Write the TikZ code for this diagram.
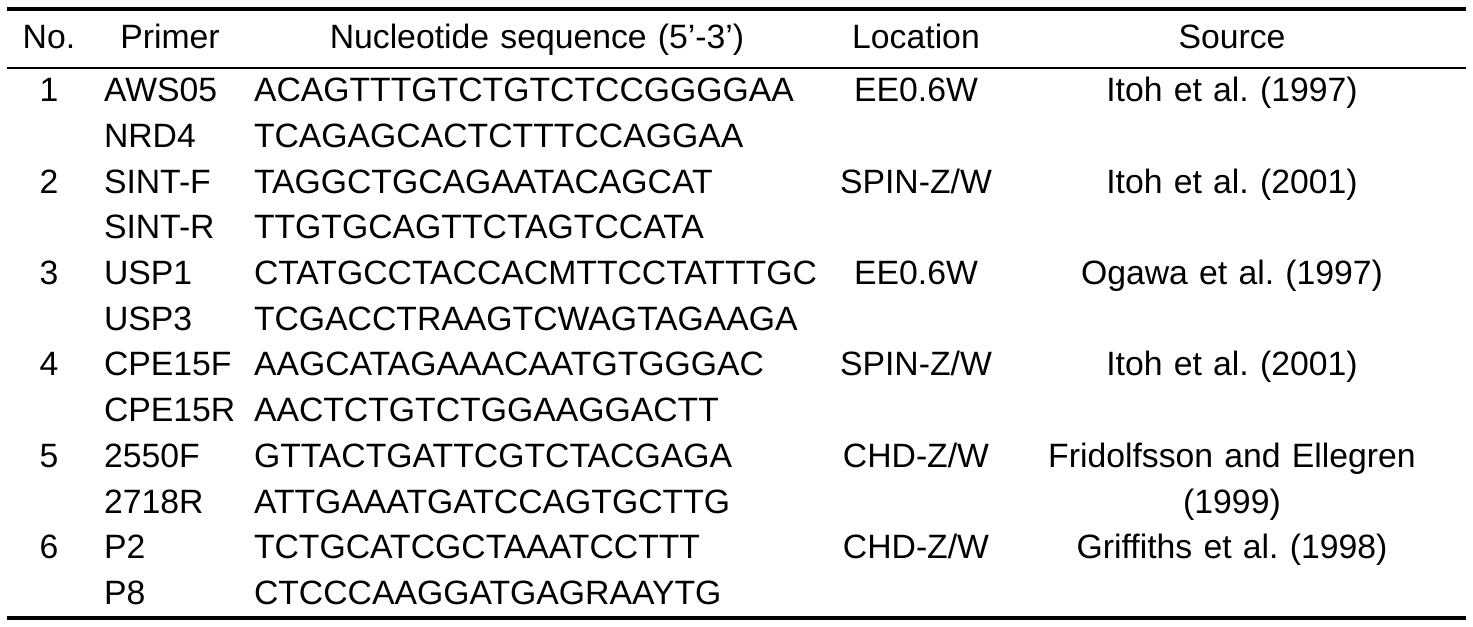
\documentclass[tikz,border=0pt]{standalone}
\usepackage{fontspec}
\setmainfont{Liberation Sans}
\usetikzlibrary{positioning}

\begin{document}
\begin{tikzpicture} [node distance = 0.914cm,
            on grid,
            cell/.style = {inner sep=0pt, text height=0.5cm, text depth=0.15cm,
                font=\fontsize{19.2}{22}\selectfont\frenchspacing},
            numcol/.style = {cell, text width=1.2cm, align=center},
            primcol/.style = {cell, text width=2.64cm, align=left},
            seqcol/.style = {cell, text width=11.32cm, align=left},
            loccol/.style = {cell, text width=4cm, align=center},
            srccol/.style = {cell, text width=7.4cm, align=center},
            thickrule/.style = {line width=0.075cm},
            thinrule/.style = {line width=0.04cm}]

            \useasboundingbox (0,0) rectangle (29.46,-12.52);

            % Header
            \node (hno) [numcol] at (0.98,-0.791) {No.};
            \node (hprim) [primcol, align=center, right=2.42cm of hno] {Primer};
            \node (hseq) [seqcol, align=center, right=7.34cm of hprim] {Nucleotide sequence (5'-3')};
            \node (hloc) [loccol, right=7.58cm of hseq] {Location};
            \node (hsrc) [srccol, right=6.32cm of hloc] {Source};

            % Primers
            \node (p1) [primcol, below=1.068cm of hprim] {AWS05};
            \node (p2) [primcol, below=of p1] {NRD4};
            \node (p3) [primcol, below=of p2] {SINT-F};
            \node (p4) [primcol, below=of p3] {SINT-R};
            \node (p5) [primcol, below=of p4] {USP1};
            \node (p6) [primcol, below=of p5] {USP3};
            \node (p7) [primcol, below=of p6] {CPE15F};
            \node (p8) [primcol, below=of p7] {CPE15R};
            \node (p9) [primcol, below=of p8] {2550F};
            \node (p10) [primcol, below=of p9] {2718R};
            \node (p11) [primcol, below=of p10] {P2};
            \node (p12) [primcol, below=of p11] {P8};

            % Numbers
            \node (n1) [numcol, left=2.42cm of p1] {1};
            \node (n2) [numcol, left=2.42cm of p3] {2};
            \node (n3) [numcol, left=2.42cm of p5] {3};
            \node (n4) [numcol, left=2.42cm of p7] {4};
            \node (n5) [numcol, left=2.42cm of p9] {5};
            \node (n6) [numcol, left=2.42cm of p11] {6};

            % Sequences
            \node (s1) [seqcol, right=7.34cm of p1] {ACAGTTTGTCTGTCTCCGGGGAA};
            \node (s2) [seqcol, right=7.34cm of p2] {TCAGAGCACTCTTTCCAGGAA};
            \node (s3) [seqcol, right=7.34cm of p3] {TAGGCTGCAGAATACAGCAT};
            \node (s4) [seqcol, right=7.34cm of p4] {TTGTGCAGTTCTAGTCCATA};
            \node (s5) [seqcol, right=7.34cm of p5] {CTATGCCTACCACMTTCCTATTTGC};
            \node (s6) [seqcol, right=7.34cm of p6] {TCGACCTRAAGTCWAGTAGAAGA};
            \node (s7) [seqcol, right=7.34cm of p7] {AAGCATAGAAACAATGTGGGAC};
            \node (s8) [seqcol, right=7.34cm of p8] {AACTCTGTCTGGAAGGACTT};
            \node (s9) [seqcol, right=7.34cm of p9] {GTTACTGATTCGTCTACGAGA};
            \node (s10) [seqcol, right=7.34cm of p10] {ATTGAAATGATCCAGTGCTTG};
            \node (s11) [seqcol, right=7.34cm of p11] {TCTGCATCGCTAAATCCTTT};
            \node (s12) [seqcol, right=7.34cm of p12] {CTCCCAAGGATGAGRAAYTG};

            % Locations
            \node (l1) [loccol, right=7.58cm of s1] {EE0.6W};
            \node (l2) [loccol, right=7.58cm of s3] {SPIN-Z/W};
            \node (l3) [loccol, right=7.58cm of s5] {EE0.6W};
            \node (l4) [loccol, right=7.58cm of s7] {SPIN-Z/W};
            \node (l5) [loccol, right=7.58cm of s9] {CHD-Z/W};
            \node (l6) [loccol, right=7.58cm of s11] {CHD-Z/W};

            % Sources
            \node (src1) [srccol, right=6.32cm of l1] {Itoh et al. (1997)};
            \node (src2) [srccol, right=6.32cm of l2] {Itoh et al. (2001)};
            \node (src3) [srccol, right=6.32cm of l3] {Ogawa et al. (1997)};
            \node (src4) [srccol, right=6.32cm of l4] {Itoh et al. (2001)};
            \node (src5) [srccol, right=6.32cm of l5] {Fridolfsson and Ellegren};
            \node (src5b) [srccol, below=of src5] {(1999)};
            \node (src6) [srccol, right=6.32cm of l6] {Griffiths et al. (1998)};

            % Rules
            \draw [thickrule] (0.14,-0.18) -- (29.32,-0.18);
            \draw [thinrule] (0.14,-1.35) -- (29.32,-1.35);
            \draw [thickrule] (0.14,-12.36) -- (29.32,-12.36);
        \end{tikzpicture}
\end{document}
